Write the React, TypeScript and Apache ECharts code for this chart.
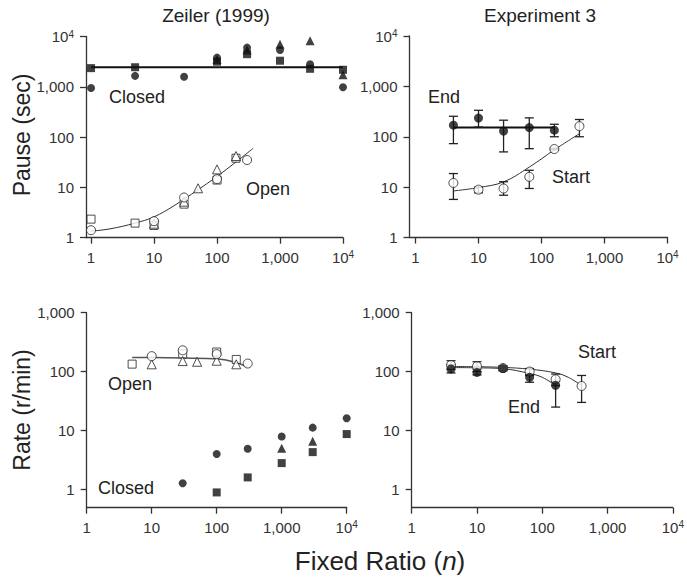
import React, { useEffect, useRef } from "react";
import * as echarts from "echarts";

const FONT = "Liberation Sans, Arial, Helvetica, sans-serif";

// ---------- Zeiler (1999): pause ----------
const zClosedCirclePause = [[1, 950], [5, 1650], [30, 1580], [100, 3800], [300, 6000], [1000, 5400], [3000, 2800], [10000, 980]];
const zClosedSquarePause = [[1, 2350], [5, 2450], [100, 3150], [300, 4450], [1000, 3300], [3000, 2280], [10000, 2180]];
const zClosedTrianglePause = [[100, 3500], [300, 5400], [1000, 7000], [3000, 8200], [10000, 1740]];
const zClosedFitPause = [[1, 2450], [10000, 2450]];
const zOpenCirclePause = [[1, 1.41], [10, 2.13], [30, 6.3], [100, 14.6], [300, 35]];
const zOpenSquarePause = [[1, 2.34], [5, 1.95], [10, 1.75], [30, 4.65], [100, 14], [200, 38]];
const zOpenTrianglePause = [[10, 1.9], [30, 5.2], [50, 9.6], [100, 22.8], [200, 42]];
const zOpenFitPause = [[1, 1.35], [2, 1.5], [5, 1.95], [10, 2.6], [20, 4.2], [50, 9], [100, 16.5], [200, 32], [375, 60]];

// ---------- Experiment 3: pause ----------
const expRatios = [4, 10, 25, 64, 160, 400];
const endPause = [170, 235, 130, 152, 135];
const endPauseLow = [73, 156, 50, 58, 100];
const endPauseHigh = [255, 335, 213, 237, 177];
const startPause = [12.1, 8.9, 9.4, 16, 57, 162];
const startPauseLow = [5.7, 7.7, 6.9, 9.4, 55, 100];
const startPauseHigh = [18.6, 10, 12.8, 21.6, 59, 220];
const endFitPause = [[4, 152], [160, 152]];
const startFitPause = [[4, 8.4], [10, 9.8], [25, 12.7], [64, 25], [160, 55], [400, 115]];

// ---------- Zeiler (1999): rate ----------
const zOpenCircleRate = [[10, 183], [30, 230], [100, 198], [300, 137]];
const zOpenSquareRate = [[5, 134], [30, 200], [100, 215], [200, 161]];
const zOpenTriangleRate = [[10, 133], [30, 151], [50, 147], [100, 153], [200, 133]];
const zOpenFitRate = [[5, 174], [10, 173], [30, 170], [100, 165], [200, 143], [300, 118]];
const zClosedCircleRate = [[30, 1.27], [100, 4.0], [300, 4.9], [1000, 7.9], [3000, 11.2], [10000, 16.2]];
const zClosedSquareRate = [[100, 0.89], [300, 1.6], [1000, 2.8], [3000, 4.3], [10000, 8.7]];
const zClosedTriangleRate = [[1000, 5.0], [3000, 6.6]];

// ---------- Experiment 3: rate ----------
const startRate = [129, 123, 115, 100, 74, 57];
const startRateLow = [110, 100, 105, 86, 58, 30];
const startRateHigh = [153, 147, 125, 113, 91, 86];
const endRate = [111, 97, 113, 80, 58.5];
const endRateLow = [95, 88, 103, 66, 25];
const endRateHigh = [131, 110, 125, 89, 68];
const startFitRate = [[4, 122], [10, 121], [25, 118], [64, 110], [160, 95], [250, 80], [400, 58]];
const endFitRate = [[4, 117], [10, 116], [25, 112], [64, 93], [100, 80], [160, 58]];

// tick labels (decades)
const decadeLabels = ["1", "10", "100", "1,000", "{b|10}{s|4}"];
const topDecades = [0, 1, 2, 3, 4];
const bottomYDecades = [0, 1, 2, 3];

const L = (v: number) => Math.log10(v);
const pts = (arr: number[][]) => arr.map(([x, y]) => [L(x), L(y)]);
const zip = (xs: number[], ys: number[]) => ys.map((y, i) => [xs[i], y]);

const axisCommon = (ticks: number[]) => ({
  type: "value",
  splitLine: { show: false },
  axisLine: { show: true, onZero: false, lineStyle: { color: "#333", width: 1.3 } },
  axisTick: { show: true, length: 6, lineStyle: { color: "#333", width: 1.3 }, customValues: ticks },
  axisLabel: {
    customValues: ticks,
    margin: 12,
    fontSize: 15,
    fontFamily: FONT,
    color: "#333",
    formatter: (v: number) => decadeLabels[Math.round(v)] ?? "",
    rich: {
      b: { fontSize: 15, fontFamily: FONT, color: "#333" },
      s: { fontSize: 10, fontFamily: FONT, color: "#333", verticalAlign: "top" },
    },
  },
});

const filledStyle = { color: "#111" };
const openStyle = { color: "#fff", borderColor: "#222", borderWidth: 1 };

const scatter = (data: number[][], gi: number, symbol: string, filled: boolean, size: number) => ({
  type: "scatter",
  xAxisIndex: gi,
  yAxisIndex: gi,
  data: pts(data),
  symbol,
  symbolSize: size,
  itemStyle: filled ? filledStyle : openStyle,
  z: 4,
});

const fit = (data: number[][], gi: number, width: number, color: string, smooth: number | boolean) => ({
  type: "line",
  xAxisIndex: gi,
  yAxisIndex: gi,
  data: pts(data),
  showSymbol: false,
  symbol: "none",
  smooth,
  lineStyle: { width, color },
  z: 2,
});

const errorBars = (xs: number[], lo: number[], hi: number[], gi: number) => ({
  type: "custom",
  xAxisIndex: gi,
  yAxisIndex: gi,
  data: lo.map((l, i) => [L(xs[i]), L(l), L(hi[i])]),
  encode: { x: 0, y: [1, 2] },
  z: 3,
  renderItem: (params: any, api: any) => {
    const x = api.value(0);
    const a = api.coord([x, api.value(1)]);
    const b = api.coord([x, api.value(2)]);
    const w = 4.5;
    const style = { stroke: "#222", lineWidth: 1.3 };
    return {
      type: "group",
      children: [
        { type: "line", shape: { x1: a[0], y1: a[1], x2: b[0], y2: b[1] }, style },
        { type: "line", shape: { x1: a[0] - w, y1: a[1], x2: a[0] + w, y2: a[1] }, style },
        { type: "line", shape: { x1: b[0] - w, y1: b[1], x2: b[0] + w, y2: b[1] }, style },
      ],
    };
  },
});

const label = (text: string, x: number, y: number, size = 18, align = "left") => ({
  type: "text",
  x,
  y,
  style: { text, fontSize: size, fontFamily: FONT, fill: "#222", align, verticalAlign: "middle" },
  z: 10,
});

export default function App() {
  const ref = useRef<HTMLDivElement>(null);
  useEffect(() => {
    if (!ref.current) return;
    const chart = echarts.init(ref.current, undefined, { renderer: "svg" });
    const option: any = {
      animation: false,
      backgroundColor: "#fff",
      grid: [
        { left: 86, top: 36.5, width: 257, height: 201.2 },
        { left: 409.5, top: 36, width: 258, height: 201.5 },
        { left: 86.7, top: 312.7, width: 260, height: 195 },
        { left: 411.7, top: 312.7, width: 261.6, height: 195 },
      ],
      xAxis: [
        { ...axisCommon(topDecades), gridIndex: 0, min: -0.08, max: 4 },
        { ...axisCommon(topDecades), gridIndex: 1, min: -0.095, max: 4 },
        { ...axisCommon(topDecades), gridIndex: 2, min: 0, max: 4 },
        { ...axisCommon(topDecades), gridIndex: 3, min: 0, max: 4 },
      ],
      yAxis: [
        { ...axisCommon(topDecades), gridIndex: 0, min: 0, max: 4 },
        { ...axisCommon(topDecades), gridIndex: 1, min: 0, max: 4 },
        { ...axisCommon(bottomYDecades), gridIndex: 2, min: -0.31, max: 3 },
        { ...axisCommon(bottomYDecades), gridIndex: 3, min: -0.31, max: 3 },
      ],
      series: [
        // Zeiler pause
        fit(zClosedFitPause, 0, 2, "#111", false),
        fit(zOpenFitPause, 0, 1, "#333", 0.4),
        scatter(zClosedSquarePause, 0, "rect", true, 8),
        scatter(zClosedTrianglePause, 0, "triangle", true, 9),
        scatter(zClosedCirclePause, 0, "circle", true, 8),
        scatter(zOpenSquarePause, 0, "rect", false, 8),
        scatter(zOpenTrianglePause, 0, "triangle", false, 9),
        scatter(zOpenCirclePause, 0, "circle", false, 9),
        // Experiment 3 pause
        errorBars(expRatios, endPauseLow, endPauseHigh, 1),
        errorBars(expRatios, startPauseLow, startPauseHigh, 1),
        fit(endFitPause, 1, 2, "#111", false),
        fit(startFitPause, 1, 1, "#333", 0.4),
        scatter(zip(expRatios, endPause), 1, "circle", true, 9),
        scatter(zip(expRatios, startPause), 1, "circle", false, 9),
        // Zeiler rate
        fit(zOpenFitRate, 2, 1.5, "#555", 0.3),
        scatter(zOpenSquareRate, 2, "rect", false, 8),
        scatter(zOpenTriangleRate, 2, "triangle", false, 9),
        scatter(zOpenCircleRate, 2, "circle", false, 9),
        scatter(zClosedSquareRate, 2, "rect", true, 8),
        scatter(zClosedTriangleRate, 2, "triangle", true, 9),
        scatter(zClosedCircleRate, 2, "circle", true, 8),
        // Experiment 3 rate
        errorBars(expRatios, startRateLow, startRateHigh, 3),
        errorBars(expRatios, endRateLow, endRateHigh, 3),
        fit(startFitRate, 3, 1, "#333", 0.4),
        fit(endFitRate, 3, 1, "#333", 0.4),
        scatter(zip(expRatios, startRate), 3, "circle", false, 9),
        scatter(zip(expRatios, endRate), 3, "circle", true, 9),
      ],
      graphic: [
        label("Zeiler (1999)", 216, 15, 19, "center"),
        label("Experiment 3", 540, 15, 19, "center"),
        label("Closed", 109, 97),
        label("Open", 246, 189),
        label("End", 428, 97),
        label("Start", 552, 177),
        label("Open", 108, 384),
        label("Closed", 98, 488),
        label("Start", 578, 352),
        label("End", 508, 407),
        {
          type: "text",
          x: 22,
          y: 135,
          rotation: Math.PI / 2,
          style: { text: "Pause (sec)", fontSize: 23, fontFamily: FONT, fill: "#222", align: "center", verticalAlign: "middle" },
        },
        {
          type: "text",
          x: 22,
          y: 410,
          rotation: Math.PI / 2,
          style: { text: "Rate (r/min)", fontSize: 23, fontFamily: FONT, fill: "#222", align: "center", verticalAlign: "middle" },
        },
        {
          type: "text",
          x: 380,
          y: 561,
          style: {
            text: "{a|Fixed Ratio (}{i|n}{a|)}",
            align: "center",
            verticalAlign: "middle",
            rich: {
              a: { fontSize: 26, fontFamily: FONT, fill: "#222" },
              i: { fontSize: 26, fontFamily: FONT, fontStyle: "italic", fill: "#222" },
            },
          },
        },
      ],
    };
    chart.setOption(option);
    return () => chart.dispose();
  }, []);
  return (
    <div
      ref={ref}
      style={{ position: "absolute", left: 0, top: 0, width: 687, height: 580, background: "#fff" }}
    />
  );
}
